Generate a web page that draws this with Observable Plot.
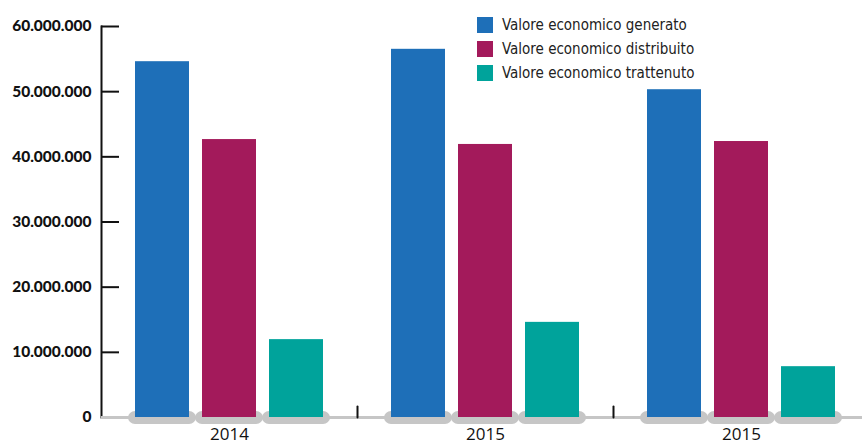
<!DOCTYPE html>
<html>
<head>
<meta charset="utf-8">
<script src="https://cdn.jsdelivr.net/npm/d3@7"></script>
<script src="https://cdn.jsdelivr.net/npm/@observablehq/plot@0.6"></script>
<style>
  html, body { margin: 0; padding: 0; background: #fff; overflow: hidden; }
  #wrap { position: relative; width: 862px; height: 445px; }
  #legend { position: absolute; left: 477px; top: 13px; font-family: "DejaVu Sans Condensed", "DejaVu Sans", sans-serif; font-stretch: condensed; font-size: 15px; color: #222; }
  #legend .row { display: flex; align-items: center; height: 24px; }
  #legend .sw { width: 16px; height: 16px; margin-right: 9px; }
</style>
</head>
<body>
<div id="wrap"><div id="legend"></div></div>
<script>
const years = ["2014", "2015", "2015"];
const groups = [0, 1, 2];
const series = ["Valore economico generato", "Valore economico distribuito", "Valore economico trattenuto"];
const generato = [54.6e6, 56.5e6, 50.3e6];
const distribuito = [42.65e6, 41.9e6, 42.35e6];
const trattenuto = [11.95e6, 14.6e6, 7.8e6];
const colors = ["#1e6fb8", "#a31a5b", "#00a39b"];
const yTicks = [0, 10e6, 20e6, 30e6, 40e6, 50e6, 60e6];
const yTickLabels = ["0", "10.000.000", "20.000.000", "30.000.000", "40.000.000", "50.000.000", "60.000.000"];
const separators = [1, 2];

const valuesBySeries = [generato, distribuito, trattenuto];
const data = [];
groups.forEach((g, gi) => {
  series.forEach((s, si) => data.push({g, s, v: valuesBySeries[si][gi]}));
});

const chart = Plot.plot({
  width: 862,
  height: 445,
  marginTop: 26,
  marginBottom: 28,
  marginLeft: 101,
  marginRight: -7,
  style: {background: "transparent"},
  fx: {domain: groups, padding: 0, axis: null},
  x: {domain: series, paddingInner: 13 / 68, paddingOuter: 0.478, axis: null},
  y: {domain: [0, 60e6], axis: null},
  color: {domain: series, range: colors},
  marks: [
    Plot.frame({anchor: "left", facetAnchor: "left", stroke: "#111", strokeWidth: 2}),
    Plot.axisY({
      ticks: yTicks,
      tickFormat: d => yTickLabels[yTicks.indexOf(d)],
      tickSize: -18,
      tickPadding: 28,
      strokeWidth: 2,
      stroke: "#111",
      fontSize: 15.5,
      fontWeight: 900,
      fontFamily: "Lato",
      fill: "#111",
      label: null
    }),
    Plot.ruleY([0], {stroke: "#c6c6c6", strokeWidth: 3}),
    Plot.barY(data, {fx: "g", x: "s", y1: 0, y2: 0, fill: "#c6c6c6", insetTop: -6, insetBottom: -7, insetLeft: -7, insetRight: -7, rx: 7}),
    Plot.vector(separators, {
      fx: d => d,
      frameAnchor: "bottom-left",
      length: 11,
      rotate: 0,
      anchor: "start",
      stroke: "#111",
      strokeWidth: 2,
      shape: {draw(context, l) { context.moveTo(0, 0); context.lineTo(0, -l); }}
    }),
    Plot.barY(data, {fx: "g", x: "s", y: "v", fill: "s"}),
    Plot.axisFx({
      anchor: "bottom",
      tickSize: 0,
      tickPadding: 10,
      tickFormat: i => years[i],
      fontSize: 17,
      fontFamily: "Open Sans",
      fill: "#111",
      label: null
    })
  ]
});
document.getElementById("wrap").prepend(chart);

const legend = document.getElementById("legend");
series.forEach((s, i) => {
  const row = document.createElement("div");
  row.className = "row";
  const sw = document.createElement("div");
  sw.className = "sw";
  sw.style.background = colors[i];
  const t = document.createElement("span");
  t.textContent = s;
  row.append(sw, t);
  legend.append(row);
});
</script>
</body>
</html>
